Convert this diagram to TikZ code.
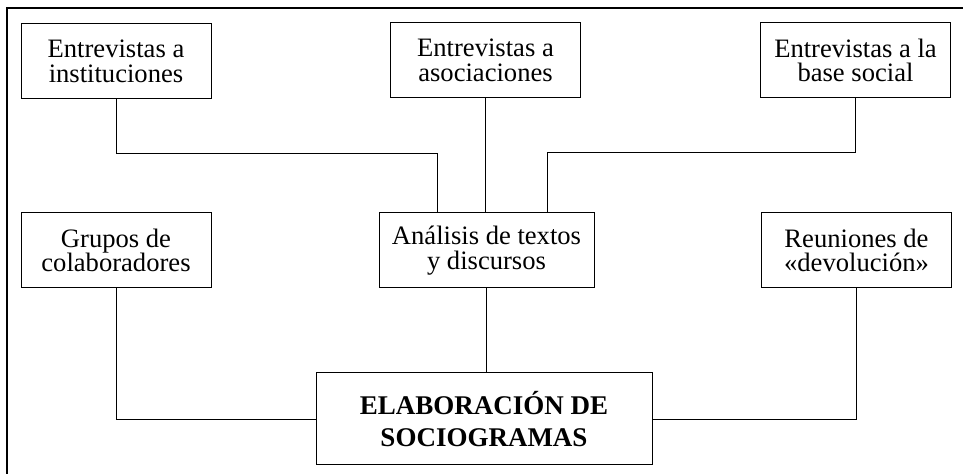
\documentclass[tikz,border=0pt]{standalone}
\usepackage{fontspec}
\setmainfont{Liberation Serif}
\usetikzlibrary{calc}

\begin{document}
\begin{tikzpicture}[x=0.5pt, y=-0.5pt,
        caja/.style={draw, line width=0.5pt, align=center, inner sep=0pt,
            minimum width=95pt, minimum height=37.5pt,
            font=\fontsize{13.3}{12.2}\selectfont},
        cajagrande/.style={caja, minimum width=168pt, minimum height=46pt,
            font=\fontsize{13.5}{16}\selectfont\bfseries},
        linea/.style={line width=0.45pt}]
    \useasboundingbox (0,0) rectangle (963,474);
    \draw[line width=0.7pt] (7,474) -- (7,8) -- (963,8);

    \node[caja] (inst) at (116,61.5) {Entrevistas a\\instituciones};
    \node[caja] (asoc) at (485.5,60.5) {Entrevistas a\\asociaciones};
    \node[caja] (base) at (855.5,60.5) {Entrevistas a la\\base social};

    \node[caja] (grupos) at (116,250.5) {Grupos de\\colaboradores};
    \node[caja, minimum width=107.5pt] (analisis) at (486.5,250.5) {Análisis de textos\\y discursos};
    \node[caja] (reuniones) at (856.5,250.5) {Reuniones de\\«devolución»};

    \node[cajagrande] (elab) at (484,419) {ELABORACIÓN DE\\SOCIOGRAMAS};

    \draw[linea] (inst.south) -- ++(0,54) -| ($(analisis.north)+(-49.5,0)$);
    \draw[linea] (asoc.south) -- (asoc.south |- analisis.north);
    \draw[linea] (base.south) -- ++(0,54) -| ($(analisis.north)+(60.5,0)$);
    \draw[linea] (grupos.south) |- (elab.west);
    \draw[linea] (analisis.south) -- (analisis.south |- elab.north);
    \draw[linea] (reuniones.south) |- (elab.east);
\end{tikzpicture}
\end{document}
